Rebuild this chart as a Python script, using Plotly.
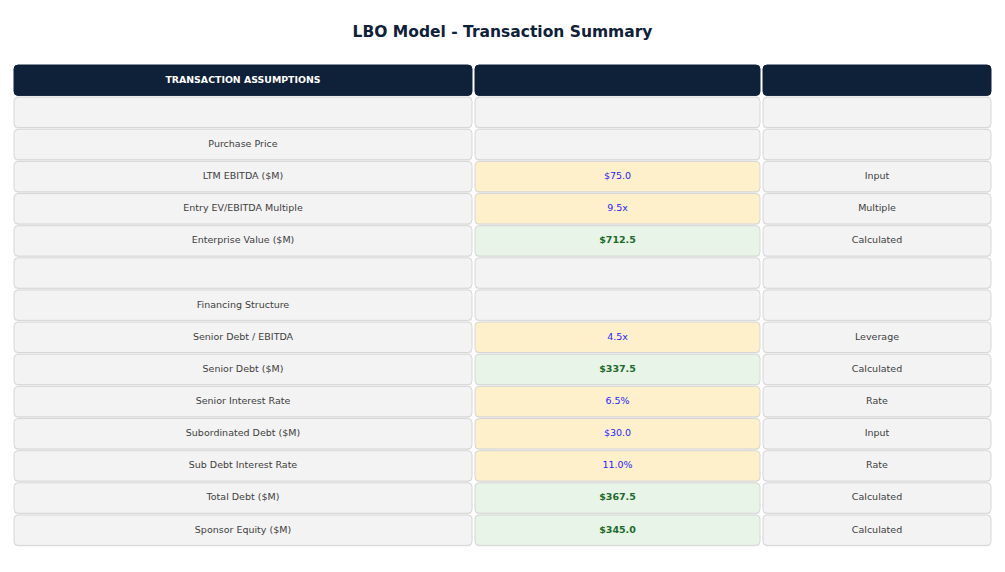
import plotly.graph_objects as go

# conteudo da tabela
titulo = "LBO Model - Transaction Summary"
cabecalho = ["TRANSACTION ASSUMPTIONS", "", ""]
rotulos = ["", "Purchase Price", "LTM EBITDA ($M)", "Entry EV/EBITDA Multiple",
           "Enterprise Value ($M)", "", "Financing Structure", "Senior Debt / EBITDA",
           "Senior Debt ($M)", "Senior Interest Rate", "Subordinated Debt ($M)",
           "Sub Debt Interest Rate", "Total Debt ($M)", "Sponsor Equity ($M)"]
valores = ["", "", "$75.0", "9.5x", "$712.5", "", "", "4.5x", "$337.5", "6.5%",
           "$30.0", "11.0%", "$367.5", "$345.0"]
tipos = ["", "", "Input", "Multiple", "Calculated", "", "", "Leverage", "Calculated",
         "Rate", "Input", "Rate", "Calculated", "Calculated"]
# estilo do valor: "" vazio, "in" input, "calc" calculado
estilo_valor = ["", "", "in", "in", "calc", "", "", "in", "calc", "in", "in", "in", "calc", "calc"]

LARG, ALT = 1005, 572
col_x0 = [6, 467, 755]
col_w = [458, 285, 228]
topo, passo, alt_cel = 57, 32.14, 30.4

COR_HEAD = "#0f2039"
COR_CINZA = "#f3f3f3"
COR_AMARELO = "#fff0cc"
COR_VERDE = "#e7f4e7"
COR_BORDA = "#d6d6d6"


def retangulo(x0, y0, w, h, r=4):
    x1, y1 = x0 + w, y0 + h
    return (f"M {x0+r},{y0} L {x1-r},{y0} Q {x1},{y0} {x1},{y0+r} "
            f"L {x1},{y1-r} Q {x1},{y1} {x1-r},{y1} L {x0+r},{y1} "
            f"Q {x0},{y1} {x0},{y1-r} L {x0},{y0+r} Q {x0},{y0} {x0+r},{y0} Z")


fig = go.Figure()
shapes = []


def celula(c, r, fill, borda=COR_BORDA):
    x0 = col_x0[c]
    y0 = topo + r * passo
    shapes.append(dict(type="path", path=retangulo(x0, y0 + 1.2, col_w[c], alt_cel),
                       xref="x", yref="y", fillcolor="rgba(0,0,0,0.07)",
                       line=dict(width=0), layer="below"))
    shapes.append(dict(type="path", path=retangulo(x0, y0, col_w[c], alt_cel),
                       xref="x", yref="y", fillcolor=fill,
                       line=dict(color=borda, width=1), layer="below"))


for c in range(3):
    celula(c, 0, COR_HEAD, borda=COR_HEAD)

for i in range(len(rotulos)):
    r = i + 1
    celula(0, r, COR_CINZA)
    fill = {"in": COR_AMARELO, "calc": COR_VERDE}.get(estilo_valor[i], COR_CINZA)
    celula(1, r, fill)
    celula(2, r, COR_CINZA)

centro_y = [topo + (i + 1) * passo + alt_cel / 2 for i in range(len(rotulos))]
centro_x = [col_x0[c] + col_w[c] / 2 for c in range(3)]
fonte = "DejaVu Sans"

# cabecalho
fig.add_trace(go.Scatter(x=centro_x, y=[topo + alt_cel / 2 + 0.6] * 3, mode="text", text=cabecalho,
                         textfont=dict(family=fonte, size=9.4, color="white", weight="bold"),
                         hoverinfo="skip"))
# rotulos
fig.add_trace(go.Scatter(x=[centro_x[0]] * len(rotulos), y=centro_y, mode="text", text=rotulos,
                         textfont=dict(family=fonte, size=9.5, color="#404040"), hoverinfo="skip"))
# valores input
idx_in = [i for i, e in enumerate(estilo_valor) if e == "in"]
fig.add_trace(go.Scatter(x=[centro_x[1]] * len(idx_in), y=[centro_y[i] for i in idx_in],
                         mode="text", text=[valores[i] for i in idx_in],
                         textfont=dict(family=fonte, size=9.5, color="#1f1fff"), hoverinfo="skip"))
# valores calculados
idx_calc = [i for i, e in enumerate(estilo_valor) if e == "calc"]
fig.add_trace(go.Scatter(x=[centro_x[1]] * len(idx_calc), y=[centro_y[i] for i in idx_calc],
                         mode="text", text=[valores[i] for i in idx_calc],
                         textfont=dict(family=fonte, size=9.5, color="#1e6a2a", weight="bold"),
                         hoverinfo="skip"))
# tipos
fig.add_trace(go.Scatter(x=[centro_x[2]] * len(tipos), y=centro_y, mode="text", text=tipos,
                         textfont=dict(family=fonte, size=9.5, color="#404040"), hoverinfo="skip"))

fig.update_layout(
    width=LARG, height=ALT,
    margin=dict(l=0, r=0, t=0, b=0),
    paper_bgcolor="white", plot_bgcolor="white",
    showlegend=False,
    shapes=shapes,
    title=dict(text=titulo, x=494.5 / LARG, xanchor="center", y=1 - 24 / ALT, yanchor="middle",
               font=dict(family=fonte, size=15.5, color="#0f2039", weight="bold")),
    xaxis=dict(range=[0, LARG], visible=False, fixedrange=True),
    yaxis=dict(range=[ALT, 0], visible=False, fixedrange=True),
)

fig.write_html("out.html")
